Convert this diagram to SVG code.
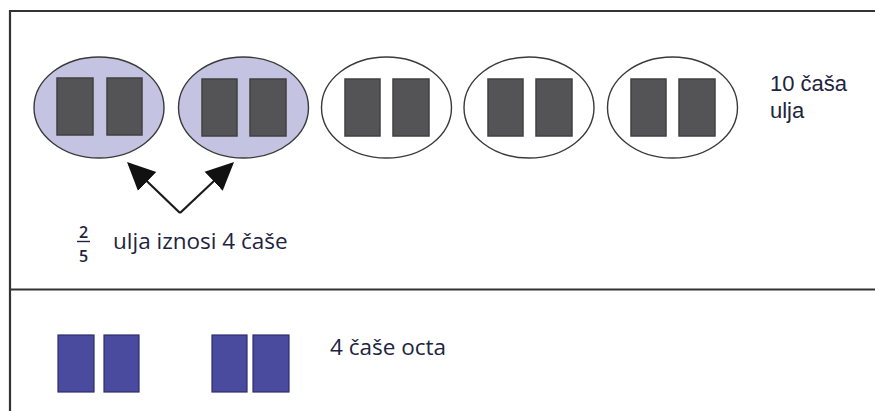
<svg xmlns="http://www.w3.org/2000/svg" width="875" height="411" viewBox="0 0 875 411">
<style>
.frame{stroke:#333;stroke-width:2.2;fill:none}
.oval{stroke:#3a3a3a;stroke-width:1.4}
.sel{fill:#c4c4e2}
.unsel{fill:#fff}
.cup{fill:#545456;stroke:#404042;stroke-width:1.5}
.vcup{fill:#4a4a9e;stroke:#2e2e70;stroke-width:1.2}
.t{font-family:"Open Sans","Noto Sans",sans-serif;fill:#1d2440}
.t2{font-family:"Liberation Sans",Arial,sans-serif;fill:#1d2440}
.arr{stroke:#1a1a1a;stroke-width:2.2;fill:none}
</style>
<defs>
<marker id="ahb" viewBox="0 0 10 10" refX="9" refY="5" markerWidth="28" markerHeight="28" markerUnits="userSpaceOnUse" orient="auto">
<path d="M0,0.3 L10,5 L0,9.7 z" fill="#111"/>
</marker>
</defs>
<rect width="875" height="411" fill="#fff"/>
<g id="frame">
<path class="frame" d="M875,11 H10 V411"/>
<path class="frame" d="M10,289.5 H875"/>
</g>
<g id="group1">
<ellipse class="oval sel" cx="99" cy="107.5" rx="65" ry="50.5"/>
<rect class="cup" x="57" y="78" width="36" height="57"/>
<rect class="cup" x="107" y="78" width="35" height="57"/>
</g>
<g id="group2">
<ellipse class="oval sel" cx="243.5" cy="107.5" rx="65" ry="50.5"/>
<rect class="cup" x="202" y="79" width="35" height="57"/>
<rect class="cup" x="250" y="79" width="36" height="57"/>
</g>
<g id="group3">
<ellipse class="oval unsel" cx="386.5" cy="107.5" rx="65" ry="50.5"/>
<rect class="cup" x="345" y="79" width="35" height="57"/>
<rect class="cup" x="393" y="79" width="36" height="57"/>
</g>
<g id="group4">
<ellipse class="oval unsel" cx="529" cy="107.5" rx="65" ry="50.5"/>
<rect class="cup" x="488" y="79" width="35" height="57"/>
<rect class="cup" x="536" y="79" width="36" height="57"/>
</g>
<g id="group5">
<ellipse class="oval unsel" cx="672.5" cy="107.5" rx="65" ry="50.5"/>
<rect class="cup" x="631" y="79" width="35" height="57"/>
<rect class="cup" x="679" y="79" width="36" height="57"/>
</g>
<g id="label-oil">
<text class="t2" x="770" y="91" font-size="22">10 čaša</text>
<text class="t2" x="770" y="118" font-size="22">ulja</text>
</g>
<g id="connectors">
<path class="arr" d="M180,213 L129,164" marker-end="url(#ahb)"/>
<path class="arr" d="M180,213 L232,164" marker-end="url(#ahb)"/>
</g>
<g id="label-fraction">
<text class="t" x="83.5" y="238" font-size="16" font-weight="600" text-anchor="middle">2</text>
<line x1="77" y1="241.5" x2="90" y2="241.5" stroke="#1d2440" stroke-width="1.4"/>
<text class="t" x="83.5" y="262" font-size="16" font-weight="600" text-anchor="middle">5</text>
<text class="t" x="113" y="249" font-size="22.5">ulja iznosi 4 čaše</text>
</g>
<g id="vinegar1">
<rect class="vcup" x="58" y="335" width="36" height="57"/>
<rect class="vcup" x="104" y="335" width="35" height="57"/>
</g>
<g id="vinegar2">
<rect class="vcup" x="212" y="335" width="35" height="57"/>
<rect class="vcup" x="253" y="335" width="36" height="57"/>
</g>
<g id="label-vinegar">
<text class="t" x="330" y="355" font-size="22.5">4 čaše octa</text>
</g>
</svg>
